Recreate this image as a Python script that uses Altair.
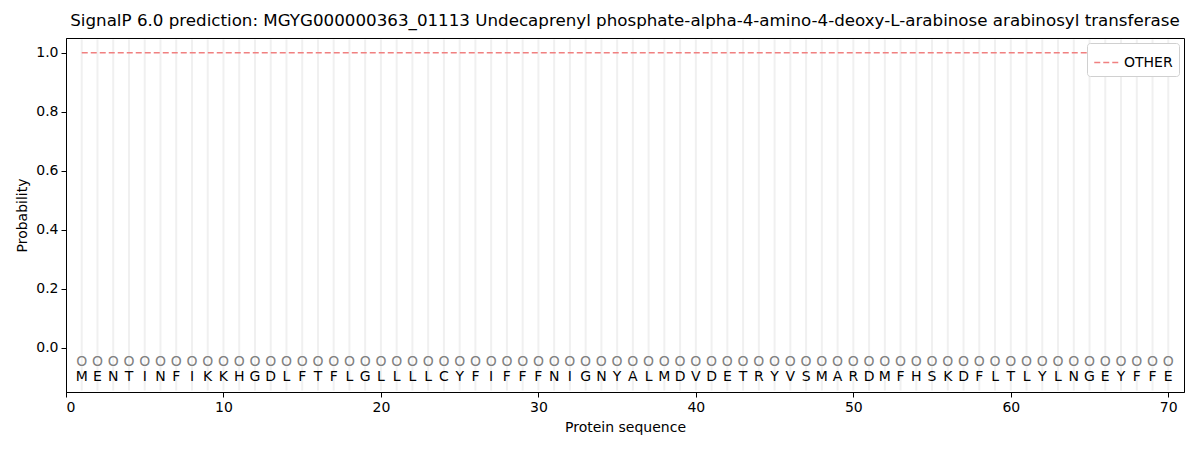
import altair as alt
import pandas as pd

## sequence and per-residue prediction
residues = list("MENTINFIKKHGDLFTFLGLLLLCYFIFFFNIGNYALMDVDETRYVSMARDMFHSKDFLTLYLNGEYFFE")
positions = list(range(1, len(residues) + 1))
labels = ["O"] * len(residues)
other_prob = [1.0] * len(residues)

title = ("SignalP 6.0 prediction: MGYG000000363_01113 Undecaprenyl phosphate-"
         "alpha-4-amino-4-deoxy-L-arabinose arabinosyl transferase")

df = pd.DataFrame({"pos": positions, "aa": residues, "lab": labels,
                   "prob": other_prob, "series": "OTHER"})

W, H = 1118, 354
xs = alt.Scale(domain=[0, 71], nice=False, zero=False)
ys = alt.Scale(domain=[-0.15, 1.05], nice=False, zero=False)

base = alt.Chart(df)

grid = base.mark_rule(color="#f0f0f0", strokeWidth=2).encode(
    x=alt.X("pos:Q", scale=xs), y=alt.datum(-0.145), y2=alt.datum(1.045))

line = base.mark_line(strokeDash=[6, 3], strokeWidth=1.6).encode(
    x=alt.X("pos:Q", scale=xs, title="Protein sequence",
            axis=alt.Axis(values=[0, 10, 20, 30, 40, 50, 60, 70], format="d")),
    y=alt.Y("prob:Q", scale=ys, title="Probability",
            axis=alt.Axis(values=[0, 0.2, 0.4, 0.6, 0.8, 1.0], format=".1f")),
    color=alt.Color("series:N", scale=alt.Scale(domain=["OTHER"], range=["#f08080"]),
                    legend=alt.Legend(title=None, orient="top-right", symbolType="stroke",
                                      symbolDash=[6, 3], symbolStrokeWidth=1.6, symbolSize=600,
                                      labelFontSize=14, labelFont="DejaVu Sans",
                                      labelColor="black",
                                      strokeColor="#d0d0d0", fillColor="white",
                                      cornerRadius=3, padding=6, offset=5)))

marks = base.mark_text(color="#808080", fontSize=14, font="DejaVu Sans").encode(
    x=alt.X("pos:Q", scale=xs), y=alt.datum(-0.047), text="lab:N")

seq = base.mark_text(color="black", fontSize=14, font="DejaVu Sans").encode(
    x=alt.X("pos:Q", scale=xs), y=alt.datum(-0.1), text="aa:N")

chart = alt.layer(grid, line, marks, seq).properties(
    width=W, height=H,
    autosize=alt.AutoSizeParams(type="none"),
    padding={"left": 58, "top": 30, "right": 8, "bottom": 50},
    title=alt.TitleParams(title, fontSize=16.7, fontWeight="normal", font="DejaVu Sans",
                          anchor="middle", offset=8, color="black"),
).configure_view(stroke="black", strokeWidth=1
).configure_axis(grid=False, domainColor="black", tickColor="black", tickSize=5,
                 labelFontSize=14, labelFont="DejaVu Sans", labelColor="black",
                 titleFontSize=14, titleFont="DejaVu Sans", titleFontWeight="normal",
                 titleColor="black", labelPadding=3, titlePadding=6)

chart.save("out.html", embed_options={"renderer": "svg", "actions": False})
